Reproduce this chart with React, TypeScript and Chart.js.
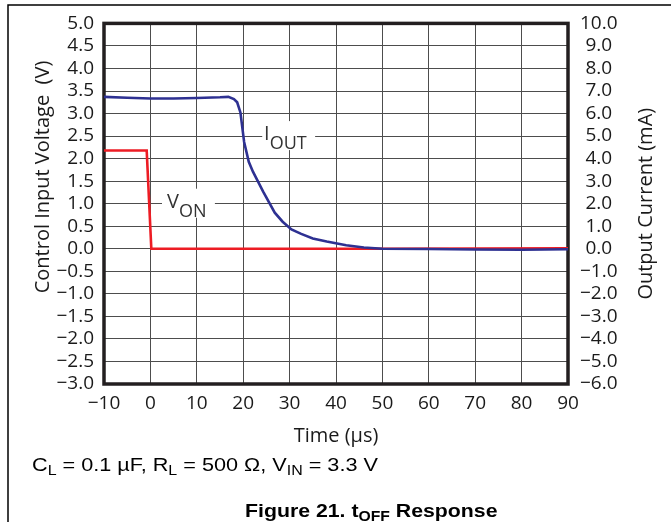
import React, { useEffect, useRef } from 'react';
import { Chart, registerables } from 'chart.js';

Chart.register(...registerables);

// ---- data ----
const ioutTime = [-10, -5, 0, 5, 10, 15, 16.8, 18, 18.7, 19.4, 20.2, 21.2, 22.1, 24.3, 26.8, 28.5, 30.4, 32.5, 35, 38, 42.2, 46, 50, 60, 70, 80, 90];
const ioutMilliAmp = [6.74, 6.7, 6.67, 6.67, 6.69, 6.72, 6.74, 6.64, 6.5, 6.05, 4.74, 3.86, 3.42, 2.54, 1.6, 1.2, 0.86, 0.66, 0.46, 0.32, 0.16, 0.06, 0.0, -0.01, -0.03, -0.04, -0.02];
const vonTime = [-10, -0.8, 0.2, 50, 90];
const vonVolt = [2.18, 2.18, 0.0, 0.0, 0.01];

const xTickMin = -10;
const xTickMax = 90;
const xTickStep = 10;
const leftMin = -3;
const leftMax = 5;
const leftStep = 0.5;
const rightMin = -6;
const rightMax = 10;
const rightStep = 1;

const xTitle = 'Time (µs)';
const leftTitle = 'Control Input Voltage  (V)';
const rightTitle = 'Output Current (mA)';

const minus = (s: string) => s.replace('-', '\u2212');

export default function App() {
  const ref = useRef<HTMLCanvasElement>(null);

  useEffect(() => {
    const canvas = ref.current;
    if (!canvas) return;

    const tickFont = { family: "'Open Sans'", size: 19 };
    const ink = '#1a1a1a';

    const drawParts = (
      ctx: CanvasRenderingContext2D,
      parts: { t: string; sub?: boolean }[],
      x: number,
      y: number,
      mainFont: string,
      subFont: string,
      subDy: number,
      sx = 1
    ) => {
      ctx.save();
      ctx.translate(x, y);
      ctx.scale(sx, 1);
      ctx.textAlign = 'left';
      ctx.textBaseline = 'alphabetic';
      let cx = 0;
      for (const p of parts) {
        ctx.font = p.sub ? subFont : mainFont;
        ctx.fillText(p.t, cx, p.sub ? subDy : 0);
        cx += ctx.measureText(p.t).width;
      }
      ctx.restore();
    };

    const overlay = {
      id: 'overlay',
      beforeDatasetsDraw(chart: any) {
        const ctx: CanvasRenderingContext2D = chart.ctx;
        const xs = chart.scales.x;
        const ys = chart.scales.y;
        const area = chart.chartArea;
        ctx.save();
        // label boxes (data units)
        const boxes = [
          { t0: 24.1, t1: 35.5, v: 2.5, txt: 'I', sub: 'OUT', tx: 24.5 },
          { t0: 2.5, t1: 13.9, v: 1.0, txt: 'V', sub: 'ON', tx: 3.6 },
        ];
        for (const b of boxes) {
          const x0 = xs.getPixelForValue(b.t0);
          const x1 = xs.getPixelForValue(b.t1);
          const yc = ys.getPixelForValue(b.v);
          ctx.fillStyle = '#ffffff';
          ctx.fillRect(x0, yc - 15, x1 - x0, 29);
          ctx.fillStyle = '#333333';
          drawParts(
            ctx,
            [{ t: b.txt }, { t: b.sub, sub: true }],
            xs.getPixelForValue(b.tx),
            yc + 4,
            "20px 'Open Sans'",
            "18px 'Open Sans'",
            9
          );
        }
        // plot border
        ctx.strokeStyle = '#231F20';
        ctx.lineWidth = 3.5;
        ctx.strokeRect(area.left, area.top, area.right - area.left, area.bottom - area.top);
        ctx.restore();
      },
      afterDraw(chart: any) {
        const ctx: CanvasRenderingContext2D = chart.ctx;
        const area = chart.chartArea;
        ctx.save();
        // outer frame lines
        ctx.strokeStyle = '#000';
        ctx.lineWidth = 1.5;
        ctx.beginPath();
        ctx.moveTo(8, 522);
        ctx.lineTo(8, 5);
        ctx.lineTo(671, 5);
        ctx.stroke();

        ctx.fillStyle = ink;
        ctx.font = "20px 'Open Sans'";
        ctx.textAlign = 'center';
        ctx.textBaseline = 'alphabetic';
        // x title
        ctx.fillText(xTitle, (area.left + area.right) / 2, 441.5);
        // left title
        ctx.save();
        ctx.translate(49, 177);
        ctx.rotate(-Math.PI / 2);
        ctx.fillText(leftTitle, 0, 0);
        ctx.restore();
        // right title
        ctx.save();
        ctx.translate(652, (area.top + area.bottom) / 2);
        ctx.rotate(-Math.PI / 2);
        ctx.fillText(rightTitle, 0, 0);
        ctx.restore();

        // caption
        ctx.fillStyle = '#000';
        drawParts(
          ctx,
          [
            { t: 'C' },
            { t: 'L', sub: true },
            { t: ' = 0.1 µF, R' },
            { t: 'L', sub: true },
            { t: ' = 500 Ω, V' },
            { t: 'IN', sub: true },
            { t: ' = 3.3 V' },
          ],
          32,
          470.5,
          "19px 'Liberation Sans'",
          "14px 'Liberation Sans'",
          4.5,
          1.14
        );
        // figure title
        drawParts(
          ctx,
          [{ t: 'Figure 21. t' }, { t: 'OFF', sub: true }, { t: ' Response' }],
          245,
          517,
          "bold 19px 'Liberation Sans'",
          "bold 14px 'Liberation Sans'",
          4,
          1.12
        );
        ctx.restore();
      },
    };

    const chart = new Chart(canvas, {
      type: 'line',
      data: {
        datasets: [
          {
            label: 'IOUT',
            data: ioutTime.map((t, i) => ({ x: t, y: ioutMilliAmp[i] })),
            yAxisID: 'y1',
            borderColor: '#2E3192',
            borderWidth: 2.6,
            pointRadius: 0,
            tension: 0,
          },
          {
            label: 'VON',
            data: vonTime.map((t, i) => ({ x: t, y: vonVolt[i] })),
            yAxisID: 'y',
            borderColor: '#ED1C24',
            borderWidth: 2.6,
            pointRadius: 0,
            tension: 0,
          },
        ],
      },
      options: {
        animation: false,
        responsive: false,
        layout: { padding: { top: 20, left: 0, right: 0, bottom: 0 } },
        plugins: { legend: { display: false }, tooltip: { enabled: false } },
        scales: {
          x: {
            type: 'linear',
            min: xTickMin,
            max: xTickMax,
            afterFit: (s: any) => {
              s.height = 138;
            },
            ticks: {
              stepSize: xTickStep,
              autoSkip: false,
              font: tickFont,
              color: ink,
              padding: 8,
              maxRotation: 0,
              callback: (v: any) => minus(String(Math.round(Number(v)))),
            },
            grid: { color: '#4d4d4d', lineWidth: 1, drawTicks: false },
            border: { display: false },
          },
          y: {
            type: 'linear',
            position: 'left',
            min: leftMin,
            max: leftMax,
            afterFit: (s: any) => {
              s.width = 104;
            },
            ticks: {
              stepSize: leftStep,
              autoSkip: false,
              font: tickFont,
              color: ink,
              padding: 10,
              callback: (v: any) => minus(Number(v).toFixed(1)),
            },
            grid: { color: '#4d4d4d', lineWidth: 1, drawTicks: false },
            border: { display: false },
          },
          y1: {
            type: 'linear',
            position: 'right',
            min: rightMin,
            max: rightMax,
            afterFit: (s: any) => {
              s.width = 103;
            },
            ticks: {
              stepSize: rightStep,
              autoSkip: false,
              font: tickFont,
              color: ink,
              padding: 12,
              crossAlign: 'center',
              callback: (v: any) => minus(Number(v).toFixed(1)),
            },
            grid: { display: false, drawTicks: false },
            border: { display: false },
          },
        },
      },
      plugins: [overlay],
    } as any);

    return () => chart.destroy();
  }, []);

  return (
    <div style={{ position: 'fixed', left: 0, top: 0, width: 671, height: 522, background: '#fff' }}>
      <canvas ref={ref} width={671} height={522} style={{ width: 671, height: 522, display: 'block' }} />
    </div>
  );
}
